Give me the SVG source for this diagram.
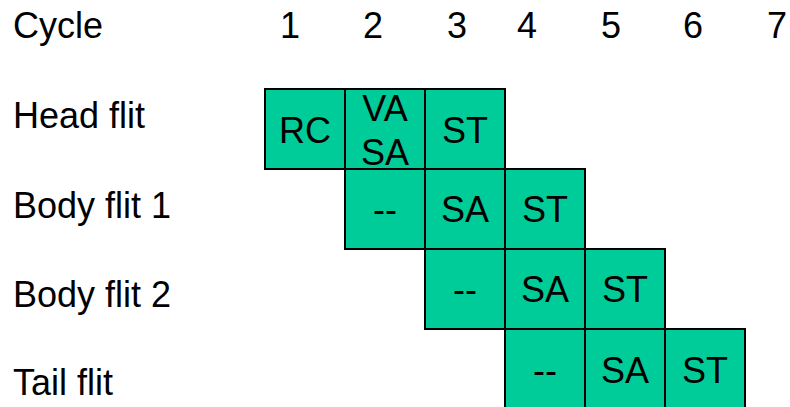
<svg xmlns="http://www.w3.org/2000/svg" width="790" height="407" viewBox="0 0 790 407">
<style>
text{font-family:"Liberation Sans",Arial,sans-serif;font-size:36px;fill:#000}
.c{text-anchor:middle}
.cell{fill:#00CC99;stroke:#000;stroke-width:2}
</style>
<rect width="790" height="407" fill="#fff"/>
<g id="header">
<text x="13" y="38">Cycle</text>
<text class="c" x="290" y="38">1</text>
<text class="c" x="373" y="38">2</text>
<text class="c" x="457" y="38">3</text>
<text class="c" x="527" y="38">4</text>
<text class="c" x="611" y="38">5</text>
<text class="c" x="693" y="38">6</text>
<text class="c" x="777" y="38">7</text>
</g>
<g id="labels">
<text x="13" y="128">Head flit</text>
<text x="13" y="218">Body flit 1</text>
<text x="13" y="307">Body flit 2</text>
<text x="13" y="395">Tail flit</text>
</g>
<g id="connectors"/>
<g id="head-rc"><rect class="cell" x="265" y="89" width="80" height="80"/><text class="c" x="305" y="143">RC</text></g>
<g id="head-vasa"><rect class="cell" x="345" y="89" width="80" height="80"/><text class="c" x="385" y="121">VA</text><text class="c" x="385" y="165">SA</text></g>
<g id="head-st"><rect class="cell" x="425" y="89" width="80" height="80"/><text class="c" x="465" y="143">ST</text></g>
<g id="body1-idle"><rect class="cell" x="345" y="169" width="80" height="80"/><text class="c" x="385" y="222">--</text></g>
<g id="body1-sa"><rect class="cell" x="425" y="169" width="80" height="80"/><text class="c" x="465" y="222">SA</text></g>
<g id="body1-st"><rect class="cell" x="505" y="169" width="80" height="80"/><text class="c" x="545" y="222">ST</text></g>
<g id="body2-idle"><rect class="cell" x="425" y="249" width="80" height="80"/><text class="c" x="465" y="302">--</text></g>
<g id="body2-sa"><rect class="cell" x="505" y="249" width="80" height="80"/><text class="c" x="545" y="302">SA</text></g>
<g id="body2-st"><rect class="cell" x="585" y="249" width="80" height="80"/><text class="c" x="625" y="302">ST</text></g>
<g id="tail-idle"><rect class="cell" x="505" y="329" width="80" height="90"/><text class="c" x="545" y="383">--</text></g>
<g id="tail-sa"><rect class="cell" x="585" y="329" width="80" height="90"/><text class="c" x="625" y="383">SA</text></g>
<g id="tail-st"><rect class="cell" x="665" y="329" width="80" height="90"/><text class="c" x="705" y="383">ST</text></g>
</svg>
